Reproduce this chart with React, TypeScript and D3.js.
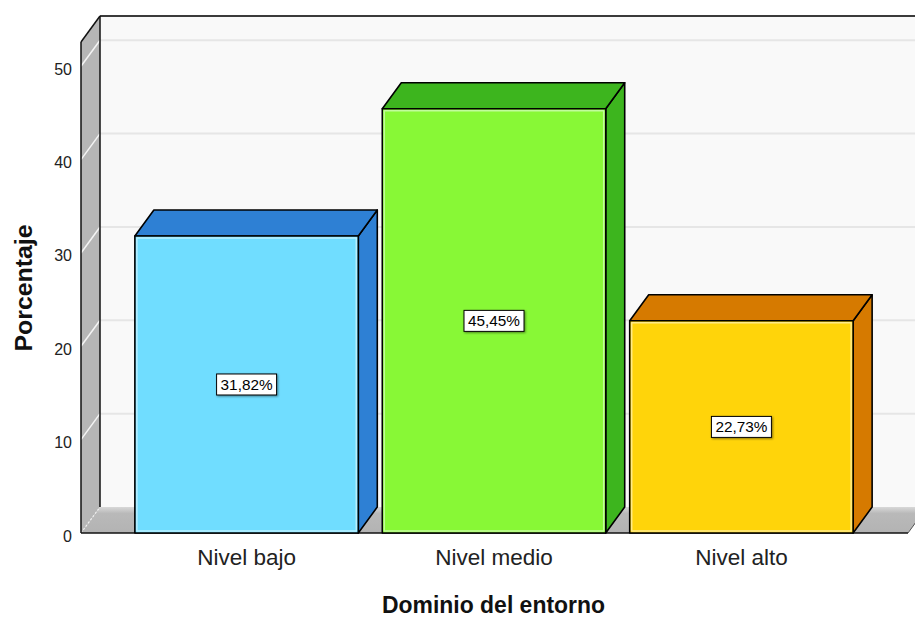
import React from "react";
import * as d3 from "d3";

// Categories and their percentage values
const categories: string[] = ["Nivel bajo", "Nivel medio", "Nivel alto"];
const percentages: number[] = [31.82, 45.45, 22.73];
const valueLabels: string[] = ["31,82%", "45,45%", "22,73%"];
const yTicks: number[] = [0, 10, 20, 30, 40, 50];

// Face colours per bar: front, top/side
const frontColors: string[] = ["#70ddff", "#88f836", "#ffd40a"];
const sideColors: string[] = ["#2e80d4", "#3db51e", "#d67a00"];
const highlightColors: string[] = ["#b8efff", "#c2fc9c", "#ffea8a"];

const W = 915;
const H = 617;
const FONT = "'Liberation Sans', Arial, Helvetica, sans-serif";

// 3D depth offset of the back plane relative to the front plane
const DX = 19;
const DY = -26;

// Front-plane extents
const X0 = 81;
const X1 = 908;
const Y0 = 533;
const YTOP = 42;
const Y_MAX = 52.6;

export default function App() {
  const y = d3.scaleLinear().domain([0, Y_MAX]).range([Y0, YTOP]);
  const x = d3
    .scaleBand<string>()
    .domain(categories)
    .range([122.5, 865.5])
    .paddingInner(0.097)
    .paddingOuter(0.05);
  const bw = x.bandwidth();

  const poly = (pts: [number, number][]) => pts.map((p) => p.join(",")).join(" ");

  return (
    <svg
      width={W}
      height={H}
      viewBox={`0 0 ${W} ${H}`}
      style={{ position: "absolute", left: 0, top: 0, background: "#ffffff" }}
    >
      <defs>
        <linearGradient id="floorGrad" x1="0" y1="0" x2="0" y2="1">
          <stop offset="0" stopColor="#d8d8d8" />
          <stop offset="0.25" stopColor="#b9b9b9" />
          <stop offset="1" stopColor="#b3b3b3" />
        </linearGradient>
        <filter id="labelShadow" x="-20%" y="-30%" width="140%" height="160%">
          <feDropShadow dx="1" dy="1" stdDeviation="0.8" floodColor="#000" floodOpacity="0.45" />
        </filter>
      </defs>

      {/* back wall */}
      <rect x={X0 + DX} y={YTOP + DY} width={W} height={Y0 - YTOP} fill="#f9f9f9" />
      {yTicks
        .filter((t) => t > 0)
        .map((t) => (
          <line
            key={`bg-${t}`}
            x1={X0 + DX}
            x2={W + 20}
            y1={y(t) + DY}
            y2={y(t) + DY}
            stroke="#e6e6e6"
            strokeWidth={2}
          />
        ))}
      <line x1={X0 + DX} x2={W + 20} y1={YTOP + DY} y2={YTOP + DY} stroke="#3a3a3a" strokeWidth={2} />

      {/* left wall */}
      <polygon
        points={poly([
          [X0, YTOP],
          [X0 + DX, YTOP + DY],
          [X0 + DX, Y0 + DY],
          [X0, Y0],
        ])}
        fill="#b6b6b6"
      />
      {yTicks
        .filter((t) => t > 0)
        .map((t) => (
          <line
            key={`lw-${t}`}
            x1={X0}
            y1={y(t)}
            x2={X0 + DX}
            y2={y(t) + DY}
            stroke="#f4f4f4"
            strokeWidth={1.5}
          />
        ))}

      {/* floor */}
      <polygon
        points={poly([
          [X0, Y0],
          [X0 + DX, Y0 + DY],
          [X1 + DX, Y0 + DY],
          [X1, Y0],
        ])}
        fill="url(#floorGrad)"
      />
      <line
        x1={X0}
        y1={Y0}
        x2={X0 + DX}
        y2={Y0 + DY}
        stroke="#f0f0f0"
        strokeWidth={1.2}
        strokeDasharray="2,2"
      />

      {/* wall outlines */}
      <line x1={X0 + DX} x2={X0 + DX} y1={YTOP + DY} y2={Y0 + DY} stroke="#111" strokeWidth={1.5} />
      <line x1={X0} x2={X0} y1={YTOP} y2={Y0} stroke="#111" strokeWidth={1.5} />
      <line x1={X0} y1={YTOP} x2={X0 + DX} y2={YTOP + DY} stroke="#111" strokeWidth={1.5} />
      <line x1={X0} x2={X1} y1={Y0} y2={Y0} stroke="#111" strokeWidth={1.5} />
      <line x1={X1} y1={Y0} x2={X1 + DX} y2={Y0 + DY} stroke="#555" strokeWidth={1} />

      {/* bars */}
      {categories.map((c, i) => {
        const bx = x(c) as number;
        const yt = y(percentages[i]);
        const yb = y(0);
        return (
          <g key={c} stroke="#000" strokeWidth={1.6} strokeLinejoin="round">
            <polygon
              points={poly([
                [bx + bw, yt],
                [bx + bw + DX, yt + DY],
                [bx + bw + DX, yb + DY],
                [bx + bw, yb],
              ])}
              fill={sideColors[i]}
            />
            <polygon
              points={poly([
                [bx, yt],
                [bx + DX, yt + DY],
                [bx + bw + DX, yt + DY],
                [bx + bw, yt],
              ])}
              fill={sideColors[i]}
            />
            <rect x={bx} y={yt} width={bw} height={yb - yt} fill={frontColors[i]} />
            <rect
              x={bx + 2}
              y={yt + 2}
              width={bw - 4}
              height={yb - yt - 4}
              fill="none"
              stroke={highlightColors[i]}
              strokeWidth={1.5}
            />
          </g>
        );
      })}

      {/* value labels */}
      {categories.map((c, i) => {
        const cx = (x(c) as number) + bw / 2;
        const cy = (y(percentages[i]) + y(0)) / 2;
        return (
          <g key={`lab-${c}`}>
            <rect
              x={cx - 30}
              y={cy - 10.5}
              width={60}
              height={21}
              fill="#fff"
              stroke="#000"
              strokeWidth={1}
              filter="url(#labelShadow)"
            />
            <text
              x={cx}
              y={cy}
              textAnchor="middle"
              dominantBaseline="central"
              fontFamily={FONT}
              fontSize={15}
              textLength={52}
              lengthAdjust="spacingAndGlyphs"
              fill="#000"
            >
              {valueLabels[i]}
            </text>
          </g>
        );
      })}

      {/* y axis tick labels */}
      {yTicks.map((t) => (
        <text
          key={`yt-${t}`}
          x={72}
          y={y(t) + 3}
          textAnchor="end"
          dominantBaseline="central"
          fontFamily={FONT}
          fontSize={16}
          fill="#222"
        >
          {t}
        </text>
      ))}

      {/* category labels */}
      {categories.map((c) => (
        <text
          key={`xl-${c}`}
          x={(x(c) as number) + bw / 2}
          y={557}
          textAnchor="middle"
          dominantBaseline="central"
          fontFamily={FONT}
          fontSize={22.5}
          fill="#222"
        >
          {c}
        </text>
      ))}

      {/* axis titles */}
      <text
        transform="translate(24,288) rotate(-90)"
        textAnchor="middle"
        dominantBaseline="central"
        fontFamily={FONT}
        fontSize={23}
        fontWeight="bold"
        textLength={127}
        lengthAdjust="spacingAndGlyphs"
        fill="#111"
      >
        Porcentaje
      </text>
      <text
        x={493.5}
        y={605}
        textAnchor="middle"
        dominantBaseline="central"
        fontFamily={FONT}
        fontSize={23}
        fontWeight="bold"
        textLength={223}
        lengthAdjust="spacingAndGlyphs"
        fill="#111"
      >
        Dominio del entorno
      </text>
    </svg>
  );
}
